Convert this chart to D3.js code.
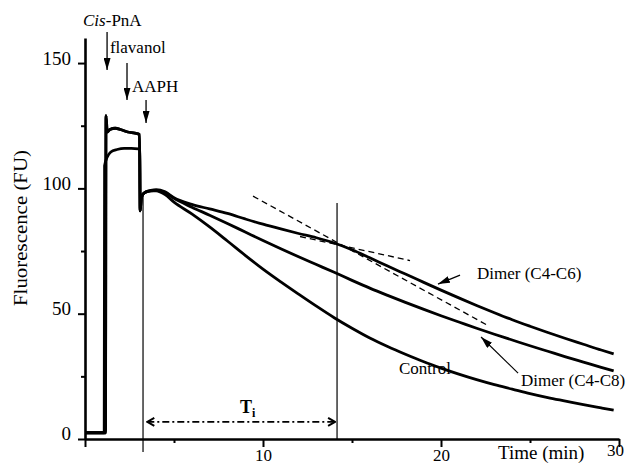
<!DOCTYPE html>
<html>
<head>
<meta charset="utf-8">
<script src="https://cdn.jsdelivr.net/npm/d3@7"></script>
<style>
  body { margin: 0; background: #fff; }
  svg { display: block; font-family: "Liberation Serif", "Times New Roman", serif; }
</style>
</head>
<body>
<svg id="chart" width="626" height="465"></svg>
<script>
// plateau before AAPH (min, FU)
const timePreControl = [0, 1.08, 1.1, 1.25, 1.45, 1.8, 2.2, 2.6, 3.0, 3.08];
const controlPre     = [2.5, 2.5, 109, 112.5, 114.5, 115.5, 116, 116, 115.8, 115.5];
const timePreDimer   = [0, 1.15, 1.18, 1.25, 1.4, 1.7, 2.0, 2.4, 2.8, 3.06];
const dimerPre       = [2.5, 2.5, 129, 122.5, 123.5, 124, 123.5, 122.5, 122, 121.5];

// decay after AAPH
const timeDecay  = [3.1, 3.16, 3.24, 3.4, 3.7, 4, 4.5, 5, 6, 7, 8, 9, 10, 11, 12, 13, 14, 15, 16, 17, 18, 19, 20, 21, 22, 23, 24, 25, 26, 27, 28, 29, 29.7];
const controlDecay = [91, 96, 97.5, 98.5, 99, 99, 97.5, 94.5, 89.8, 84.6, 79, 73.3, 67.8, 62.7, 57.8, 53, 48.4, 44.2, 40.3, 36.9, 33.8, 30.9, 28.3, 25.9, 23.7, 21.7, 19.9, 18.1, 16.5, 15.1, 13.7, 12.4, 11.5];
const c4c8Decay    = [91, 96, 97.5, 98.5, 99, 99.2, 98.3, 96, 92.5, 89.3, 86, 82.6, 79.2, 75.9, 72.7, 69.6, 66.5, 63.3, 60.2, 57.3, 54.5, 51.8, 49.2, 46.7, 44.2, 41.8, 39.5, 37.2, 35, 32.8, 30.7, 28.6, 27.2];
const c4c6Decay    = [91, 96, 97.5, 98.5, 99.2, 99.5, 98.6, 96.3, 93.6, 91.8, 90, 87.8, 85.7, 83.8, 82, 80.3, 78.2, 75.5, 72.3, 69, 65.8, 62.6, 59.4, 56.3, 53.3, 50.4, 47.6, 45, 42.5, 40.1, 37.8, 35.5, 34];

// tangents to the C4-C6 trace: [t, FU] pairs
const tangentEarly = [[12.08, 80.8], [18.26, 71.2]];
const tangentLate  = [[9.44, 96.9], [22.58, 45.5]];

// lag time Ti
const lagStart = 3.26;
const lagEnd = 14.16;

const xMajor = [0, 10, 20, 30];
const xMinor = [5, 15, 25];
const yMajor = [0, 50, 100, 150];
const yMinor = [25, 75, 125];

const svg = d3.select("#chart");
const x = d3.scaleLinear().domain([0, 30]).range([85, 619]);
const y = d3.scaleLinear().domain([0, 160]).range([439, 38]);

const zip = (ts, vs) => ts.map((t, i) => [t, vs[i]]);
const series = [
  zip(timePreControl, controlPre).concat(zip(timeDecay, controlDecay)),
  zip(timePreDimer, dimerPre).concat(zip(timeDecay, c4c8Decay)),
  zip(timePreDimer, dimerPre).concat(zip(timeDecay, c4c6Decay)),
];

// markers
const defs = svg.append("defs");
defs.append("marker")
  .attr("id", "head")
  .attr("viewBox", "0 -3.5 12 7")
  .attr("refX", 12).attr("refY", 0)
  .attr("markerWidth", 12).attr("markerHeight", 7)
  .attr("markerUnits", "userSpaceOnUse")
  .attr("orient", "auto")
  .append("path").attr("d", "M0,-3.5L12,0L0,3.5Z").attr("fill", "#000");
defs.append("marker")
  .attr("id", "chev")
  .attr("viewBox", "-1 -5 10 10")
  .attr("refX", 8).attr("refY", 0)
  .attr("markerWidth", 10).attr("markerHeight", 10)
  .attr("markerUnits", "userSpaceOnUse")
  .attr("orient", "auto-start-reverse")
  .append("path").attr("d", "M1,-4L8,0L1,4").attr("fill", "none")
  .attr("stroke", "#000").attr("stroke-width", 2);

// axes
function styleAxis(g, fontSize) {
  g.attr("font-family", null).attr("font-size", fontSize);
  g.select(".domain").attr("stroke-width", 2.6);
  g.selectAll(".tick line").attr("stroke-width", 2);
  g.selectAll(".tick text").attr("fill", "#000");
}

svg.append("g")
  .attr("transform", `translate(0,${y(0)})`)
  .call(d3.axisBottom(x).tickValues(xMajor).tickSize(8).tickPadding(2)
    .tickSizeOuter(0).tickFormat(d => d === 0 ? "" : d))
  .call(g => styleAxis(g, 17))
  .call(g => g.selectAll(".tick text").filter(d => d === 30).attr("y", 5).attr("dx", -4));

svg.append("g")
  .attr("transform", `translate(0,${y(0)})`)
  .call(d3.axisBottom(x).tickValues(xMinor).tickSize(4).tickFormat(""))
  .call(g => g.select(".domain").remove())
  .call(g => g.selectAll(".tick line").attr("stroke-width", 2));

svg.append("g")
  .attr("transform", `translate(${x(0)},0)`)
  .call(d3.axisLeft(y).tickValues(yMajor).tickSize(7).tickPadding(7).tickSizeOuter(0))
  .call(g => styleAxis(g, 19))
  .call(g => g.selectAll(".tick text").attr("dy", "0.05em"));

svg.append("g")
  .attr("transform", `translate(${x(0)},0)`)
  .call(d3.axisLeft(y).tickValues(yMinor).tickSize(4).tickFormat(""))
  .call(g => g.select(".domain").remove())
  .call(g => g.selectAll(".tick line").attr("stroke-width", 2));

svg.append("text")
  .attr("transform", `translate(27,228) rotate(-90)`)
  .attr("text-anchor", "middle")
  .attr("font-size", 18)
  .attr("textLength", 156)
  .attr("lengthAdjust", "spacingAndGlyphs")
  .text("Fluorescence (FU)");

svg.append("text")
  .attr("x", x(23.2)).attr("y", y(-8))
  .attr("font-size", 19)
  .text("Time (min)");

// lag time guides
svg.append("line")
  .attr("x1", x(lagStart)).attr("x2", x(lagStart))
  .attr("y1", y(97)).attr("y2", y(-5.2))
  .attr("stroke", "#000").attr("stroke-width", 1.2);
svg.append("line")
  .attr("x1", x(lagEnd)).attr("x2", x(lagEnd))
  .attr("y1", y(94.2)).attr("y2", y(0))
  .attr("stroke", "#000").attr("stroke-width", 1.2);

// traces
const line = d3.line().x(d => x(d[0])).y(d => y(d[1])).curve(d3.curveMonotoneX);
svg.append("g")
  .selectAll("path")
  .data(series)
  .join("path")
  .attr("d", line)
  .attr("fill", "none")
  .attr("stroke", "#000")
  .attr("stroke-width", 2.8)
  .attr("stroke-linejoin", "round");

// tangents
svg.append("g")
  .selectAll("line")
  .data([tangentEarly, tangentLate])
  .join("line")
  .attr("x1", d => x(d[0][0])).attr("y1", d => y(d[0][1]))
  .attr("x2", d => x(d[1][0])).attr("y2", d => y(d[1][1]))
  .attr("stroke", "#000").attr("stroke-width", 1.3)
  .attr("stroke-dasharray", "6,4");

// Ti arrow
svg.append("line")
  .attr("x1", x(3.5)).attr("x2", x(14.05))
  .attr("y1", y(6.8)).attr("y2", y(6.8))
  .attr("stroke", "#000").attr("stroke-width", 1.7)
  .attr("stroke-dasharray", "7,3,2,3")
  .attr("marker-start", "url(#chev)")
  .attr("marker-end", "url(#chev)");

const ti = svg.append("text")
  .attr("x", x(8.71)).attr("y", y(10.4))
  .attr("font-size", 18).attr("font-weight", "bold");
ti.append("tspan").text("T");
ti.append("tspan").attr("font-size", 12).attr("dy", 4).text("i");

// addition arrows
const additions = [
  { t: 1.24, from: 162.4, to: 147.2 },
  { t: 2.36, from: 150, to: 135.3 },
  { t: 3.43, from: 135.3, to: 126.1 },
];
svg.append("g")
  .selectAll("line")
  .data(additions)
  .join("line")
  .attr("x1", d => x(d.t)).attr("x2", d => x(d.t))
  .attr("y1", d => y(d.from)).attr("y2", d => y(d.to))
  .attr("stroke", "#000").attr("stroke-width", 1.3)
  .attr("marker-end", "url(#head)");

const cis = svg.append("text")
  .attr("x", x(-0.11)).attr("y", y(164.8))
  .attr("font-size", 17);
cis.append("tspan").attr("font-style", "italic").text("Cis");
cis.append("tspan").text("-PnA");

svg.append("text").attr("x", x(1.4)).attr("y", y(154)).attr("font-size", 17).text("flavanol");
svg.append("text").attr("x", x(2.64)).attr("y", y(138.5)).attr("font-size", 17).text("AAPH");

// trace labels
const pointers = [
  [[21.07, 65.4], [19.83, 61.8]],
  [[24.33, 26.3], [22.25, 40.7]],
];
svg.append("g")
  .selectAll("line")
  .data(pointers)
  .join("line")
  .attr("x1", d => x(d[0][0])).attr("y1", d => y(d[0][1]))
  .attr("x2", d => x(d[1][0])).attr("y2", d => y(d[1][1]))
  .attr("stroke", "#000").attr("stroke-width", 1.2)
  .attr("marker-end", "url(#head)");

svg.append("text").attr("x", x(22.02)).attr("y", y(63.8)).attr("font-size", 17).text("Dimer (C4-C6)");
svg.append("text").attr("x", x(24.49)).attr("y", y(21.1)).attr("font-size", 17).text("Dimer (C4-C8)");
svg.append("text").attr("x", x(17.64)).attr("y", y(25.9)).attr("font-size", 17).text("Control");
</script>
</body>
</html>
